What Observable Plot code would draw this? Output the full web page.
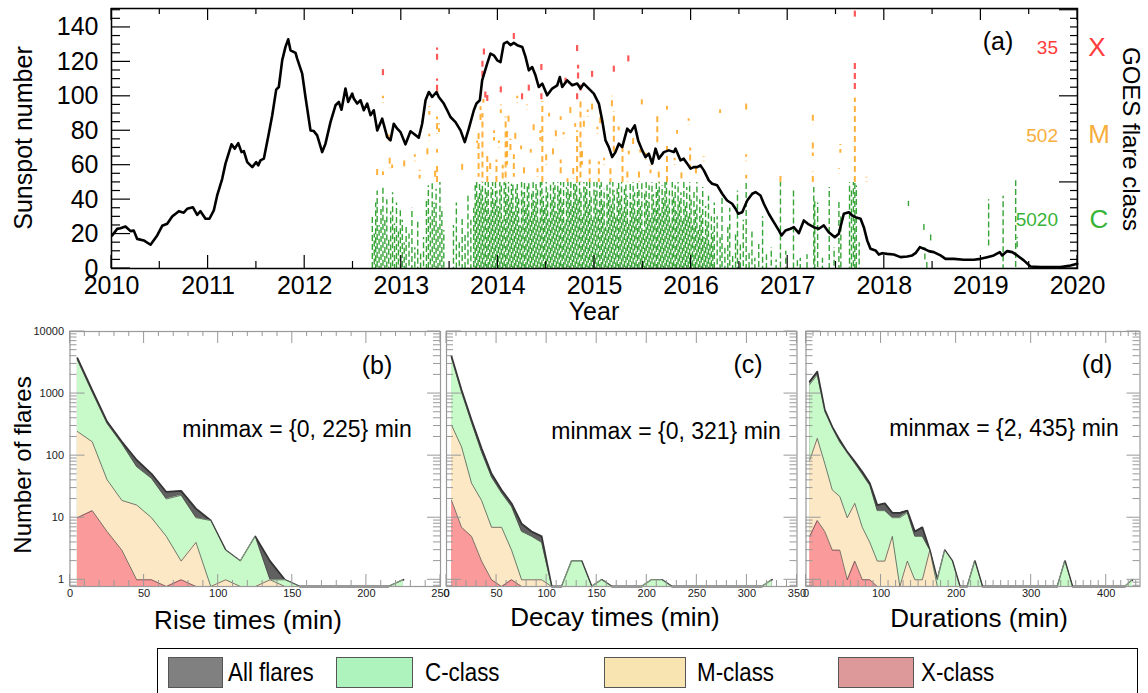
<!DOCTYPE html>
<html><head><meta charset="utf-8">
<script src="https://cdn.jsdelivr.net/npm/d3@7"></script>
<script src="https://cdn.jsdelivr.net/npm/@observablehq/plot@0.6"></script>
<style>
html,body{margin:0;padding:0;background:#fff;}
#root{position:relative;width:1148px;height:693px;overflow:hidden;background:#fff;font-family:"Liberation Sans",Arial,Helvetica,sans-serif;}
#root svg{position:absolute;left:0;max-width:none;}
.lbl{position:absolute;white-space:nowrap;line-height:1;}
</style></head><body><div id="root"></div>
<script>
// ---------------- DATA ----------------
const sunspotYear = [2010.007,2010.059,2010.093,2010.145,2010.197,2010.231,2010.266,2010.334,2010.404,2010.473,2010.525,2010.577,2010.628,2010.697,2010.748,2010.784,2010.842,2010.887,2010.921,2010.973,2011.014,2011.059,2011.094,2011.146,2011.180,2011.242,2011.276,2011.312,2011.346,2011.370,2011.405,2011.457,2011.498,2011.519,2011.542,2011.577,2011.628,2011.664,2011.705,2011.732,2011.767,2011.801,2011.829,2011.853,2011.905,2011.922,2011.974,2012.008,2012.060,2012.094,2012.129,2012.181,2012.215,2012.267,2012.319,2012.353,2012.381,2012.422,2012.450,2012.492,2012.508,2012.543,2012.578,2012.612,2012.647,2012.681,2012.715,2012.751,2012.802,2012.854,2012.888,2012.922,2012.958,2012.992,2013.043,2013.095,2013.129,2013.181,2013.216,2013.251,2013.285,2013.320,2013.364,2013.388,2013.440,2013.475,2013.509,2013.561,2013.613,2013.657,2013.699,2013.751,2013.778,2013.813,2013.837,2013.889,2013.923,2013.958,2013.993,2014.027,2014.061,2014.096,2014.130,2014.165,2014.200,2014.252,2014.286,2014.320,2014.355,2014.389,2014.423,2014.459,2014.510,2014.562,2014.614,2014.641,2014.666,2014.717,2014.769,2014.821,2014.855,2014.889,2014.941,2014.993,2015.045,2015.080,2015.114,2015.148,2015.183,2015.217,2015.252,2015.287,2015.339,2015.373,2015.417,2015.452,2015.494,2015.528,2015.562,2015.597,2015.632,2015.666,2015.718,2015.769,2015.821,2015.839,2015.890,2015.924,2015.960,2015.994,2016.028,2016.063,2016.097,2016.132,2016.183,2016.218,2016.270,2016.322,2016.373,2016.425,2016.460,2016.488,2016.529,2016.581,2016.633,2016.667,2016.718,2016.753,2016.804,2016.856,2016.908,2016.936,2016.977,2017.029,2017.063,2017.115,2017.167,2017.218,2017.270,2017.322,2017.374,2017.425,2017.488,2017.529,2017.581,2017.633,2017.667,2017.702,2017.754,2017.788,2017.823,2017.857,2017.909,2017.943,2017.978,2018.030,2018.098,2018.168,2018.237,2018.289,2018.323,2018.368,2018.409,2018.461,2018.512,2018.582,2018.634,2018.720,2018.823,2018.927,2018.996,2019.065,2019.133,2019.196,2019.220,2019.272,2019.324,2019.376,2019.444,2019.513,2019.617,2019.720,2019.824,2019.928,2019.997];
const sunspotValue = [19.2,23.0,23.4,24.4,21.7,22.0,17.2,16.3,13.8,19.2,24.8,26.0,30.2,33.3,32.4,34.7,35.6,31.2,33.3,28.9,28.9,33.7,42.4,52.1,60.9,72.1,69.6,72.8,67.6,68.2,61.8,58.9,61.8,59.9,62.8,63.8,78.3,89.0,103.9,105.4,120.9,128.7,133.1,126.7,125.2,121.9,113.2,99.6,80.2,79.8,77.3,67.6,72.5,85.0,94.8,96.7,92.2,104.5,96.7,101.6,98.7,95.8,97.7,91.9,95.8,89.0,91.9,80.2,87.0,76.3,74.4,84.1,81.2,79.2,72.1,79.7,78.3,76.0,84.1,97.7,102.5,99.6,102.5,99.6,95.8,91.9,88.0,85.0,80.2,73.4,81.2,91.9,95.8,97.7,109.3,119.0,124.8,123.8,120.9,119.9,130.6,131.6,129.7,131.0,129.7,128.7,122.9,115.1,117.0,112.2,105.4,107.4,100.6,104.5,106.4,111.2,105.4,109.3,106.4,107.4,104.5,107.4,104.5,101.6,95.8,86.0,74.4,70.5,64.7,67.6,72.5,70.5,81.2,79.2,83.1,74.4,68.6,64.7,66.7,60.9,69.6,63.8,67.6,68.6,67.6,69.6,62.8,63.8,60.9,58.0,58.9,58.9,59.9,57.0,51.2,49.2,48.3,43.4,39.5,37.6,34.7,31.8,32.7,39.5,43.4,44.4,42.4,37.6,31.8,26.9,22.1,19.2,22.1,23.1,24.0,20.5,27.9,25.6,24.0,23.1,25.0,21.1,18.2,20.2,31.8,32.7,30.8,29.8,28.9,24.0,16.3,11.5,10.5,8.1,8.9,8.5,8.1,6.6,7.0,7.6,8.9,12.4,11.5,10.1,9.5,7.6,5.6,5.6,5.1,5.1,5.6,6.6,7.6,9.5,7.6,10.1,9.5,7.6,4.7,1.2,0.8,0.8,0.8,1.7,2.7];

// C-class flare columns [time (yr), top level on the 0-150 flare-class axis]
const cColumns = [[2012.700,30],[2012.720,20],[2012.735,38],[2012.750,45],[2012.770,25],[2012.790,36],[2012.810,48],[2012.830,28],[2012.850,40],[2012.870,18],[2012.890,33],[2012.910,44],[2012.930,26],[2012.950,38],[2012.970,22],[2012.990,35],[2013.010,28],[2013.030,15],[2013.050,24],[2013.080,20],[2013.110,35],[2013.140,12],[2013.170,28],[2013.200,10],[2013.230,18],[2013.260,40],[2013.280,48],[2013.300,30],[2013.320,50],[2013.340,38],[2013.360,46],[2013.380,25],[2013.400,50],[2013.420,35],[2013.440,22],[2013.540,25],[2013.570,38],[2013.600,15],[2013.630,30],[2013.660,20],[2013.690,42],[2013.720,28],
[2013.750,35],[2013.765,48],[2013.780,50],[2013.795,42],[2013.810,50],[2013.825,46],[2013.840,50],[2013.855,38],[2013.870,50],[2013.885,44],[2013.900,50],[2013.915,31],[2013.930,47],[2013.945,50],[2013.960,40],[2013.975,50],[2013.990,45],[2014.005,36],[2014.020,50],[2014.035,48],[2014.050,28],[2014.065,50],[2014.080,50],[2014.095,43],[2014.110,50],[2014.125,38],[2014.140,49],[2014.155,50],[2014.170,33],[2014.185,46],[2014.200,50],[2014.215,41],[2014.230,25],[2014.245,50],[2014.260,44],[2014.275,50],[2014.290,36],[2014.305,48],[2014.320,50],[2014.335,30],[2014.350,45],[2014.365,50],[2014.380,39],[2014.395,50],[2014.410,47],[2014.425,27],[2014.440,50],[2014.455,50],[2014.470,42],[2014.485,35],[2014.500,50],[2014.515,46],[2014.530,29],[2014.545,50],[2014.560,41],[2014.575,50],[2014.590,48],[2014.605,33],[2014.620,50],[2014.635,45],[2014.650,50],[2014.665,38],[2014.680,50],[2014.695,26],[2014.710,47],[2014.725,50],[2014.740,43],[2014.755,50],[2014.770,36],[2014.785,50],[2014.800,49],[2014.815,50],[2014.830,40],[2014.845,50],[2014.860,44],[2014.875,31],[2014.890,50],[2014.905,47],[2014.920,50],[2014.935,37],[2014.950,50],[2014.965,42],[2014.980,28],[2014.995,50],[2015.010,45],[2015.025,50],[2015.040,34],[2015.055,48],[2015.070,50],[2015.085,39],[2015.100,46],[2015.115,24],[2015.130,50],[2015.145,43],[2015.160,50],[2015.175,37],[2015.190,50],[2015.205,45],[2015.220,30],[2015.235,48],[2015.250,50],[2015.265,40],[2015.280,50],[2015.295,33],[2015.310,46],[2015.325,50],[2015.340,42],[2015.355,27],[2015.370,49],[2015.385,38],[2015.400,50],[2015.415,44],[2015.430,31],[2015.445,50],[2015.460,47],[2015.475,36],[2015.490,50],[2015.505,22],[2015.520,45],[2015.535,50],[2015.550,39],[2015.565,48],[2015.580,29],[2015.595,50],[2015.610,43],[2015.625,35],[2015.640,50],[2015.655,46],[2015.670,50],[2015.685,32],[2015.700,48],[2015.715,41],[2015.730,50],[2015.745,50],[2015.760,37],[2015.775,45],[2015.790,26],[2015.805,50],[2015.820,42],[2015.835,48],[2015.850,33],[2015.865,50],[2015.880,39],[2015.895,44],[2015.910,28],[2015.925,50],[2015.940,36],[2015.955,47],[2015.970,30],[2015.985,50],[2016.000,41],[2016.015,25],[2016.030,45],[2016.045,34],[2016.060,50],[2016.075,22],[2016.090,40],[2016.105,31],[2016.120,47],[2016.135,18],[2016.150,36],[2016.165,27],[2016.180,42],[2016.195,15],[2016.210,30],[2016.225,21],[2016.240,38],
[2016.270,30],[2016.300,18],[2016.320,42],[2016.350,12],[2016.380,25],[2016.400,35],[2016.430,8],[2016.460,20],[2016.480,45],[2016.510,15],[2016.540,28],[2016.570,50],[2016.600,10],[2016.630,22],[2016.660,6],[2016.700,14],[2016.740,30],[2016.780,8],[2016.830,12],[2016.880,5],[2016.925,50],[2016.980,10],[2017.060,45],[2017.100,5],[2017.130,6],[2017.200,8],[2017.270,47],[2017.280,40],[2017.310,38],[2017.360,6],[2017.430,47],[2017.480,12],[2017.530,40],[2017.550,30],[2017.640,50],[2017.660,45],[2017.680,50],[2017.695,50],[2017.710,48],[2017.740,15],[2019.230,42],[2019.360,51]];
// isolated C-class dashes [time, low, high]
const cDashes = [[2018.25,36,39],[2018.41,22,26],[2018.42,5,12],[2018.48,16,20],[2018.44,0,4],[2019.08,13,40],[2019.375,12,18]];
// M-class flare marks [time, low, high]
const mFlares = [[2012.75,54,58],[2012.81,96,100],[2012.81,54,58],[2012.87,74,78],[2012.88,58,66],[2012.905,58,62],[2013.03,59,63],[2013.14,62,66],[2013.19,52,57],[2013.27,66,70],[2013.29,74,78],[2013.29,89,94],[2013.35,53,58],[2013.37,78,88],[2013.37,67,71],[2013.37,50,60],[2013.38,100,103],[2013.39,79,84],[2013.63,57,61],[2013.785,70,74],[2013.80,53,79],[2013.82,86,94],[2013.84,50,90],[2013.85,96,100],[2013.89,50,66],[2013.92,55,62],[2013.96,74,80],[2013.985,50,63],[2014.01,70,74],[2014.03,90,95],[2014.05,52,60],[2014.08,50,88],[2014.095,60,80],[2014.11,85,89],[2014.13,66,75],[2014.165,53,66],[2014.18,75,79],[2014.20,96,100],[2014.24,69,73],[2014.27,55,60],[2014.30,92,95],[2014.34,67,71],[2014.37,80,84],[2014.41,53,58],[2014.44,74,80],[2014.46,50,97],[2014.50,60,66],[2014.53,88,92],[2014.57,66,70],[2014.60,74,80],[2014.65,86,90],[2014.65,55,63],[2014.68,75,79],[2014.72,50,54],[2014.75,90,94],[2014.78,52,60],[2014.80,82,86],[2014.82,50,80],[2014.855,50,98],[2014.87,60,68],[2014.89,82,88],[2014.93,88,92],[2014.95,50,63],[2014.975,92,96],[2015.03,78,82],[2015.045,50,62],[2015.06,84,91],[2015.10,60,64],[2015.165,50,58],[2015.18,94,100],[2015.20,65,91],[2015.25,80,84],[2015.29,50,70],[2015.34,50,56],[2015.355,66,70],[2015.40,72,76],[2015.46,50,56],[2015.475,67,71],[2015.49,95,98],[2015.53,63,67],[2015.58,55,60],[2015.65,73,90],[2015.665,50,58],[2015.75,92,95],[2015.75,50,72],[2015.83,60,64],[2015.855,78,82],[2015.90,52,56],[2015.975,83,87],[2015.99,58,70],[2016.05,55,58],[2016.13,62,65],[2016.30,90,93],[2016.57,92,96],[2016.57,62,66],[2016.57,52,56],[2016.925,50,55],[2017.26,83,90],[2017.26,65,73],[2017.26,50,56],[2017.53,55,58],[2017.545,67,72],[2017.695,50,99],[2017.815,50,53]];
// X-class flare marks [time, low, high]
const xFlares = [[2012.81,112,116],[2013.37,121,128],[2013.37,103,110],[2013.84,111,121],[2013.855,124,128],[2013.87,99,103],[2013.89,97,101],[2014.03,102,106],[2014.165,133,137],[2014.25,98,102],[2014.32,103,108],[2014.45,115,119],[2014.45,98,102],[2014.70,107,111],[2014.82,126,130],[2014.83,110,118],[2014.82,98,102],[2014.855,103,107],[2014.975,111,115],[2015.20,114,119],[2015.35,120,125],[2017.695,104,120],[2017.695,146,151]];
const flareCounts = {X: 35, M: 502, C: 5020};
const yearTicks = [2010,2011,2012,2013,2014,2015,2016,2017,2018,2019,2020];
const sunspotTicks = [0,20,40,60,80,100,120,140];

// histograms (bin centres in minutes, counts)
const riseBins = [5,15,25,35,45,55,65,75,85,95,105,115,125,135,145,155,165,175,185,195,205,215,225];
const riseAll  = [3720,1140,354,167,85,51,26,27,14,9,3,2,5,2,1,0,0,0,0,0,0,0,1];
const riseC    = [3470,1050,330,155,66,43,20,23,10,9,3,2,5,1,1,0,0,0,0,0,0,0,1];
const riseM    = [245,167,41,19,16,10,5,2,4,0,1,0,0,1,0,0,0,0,0,0,0,0,0];
const riseX    = [10,13,6,3,1,1,0,1,0,0,0,0,0,0,0,0,0,0,0,0,0,0,0];

const decayBins = [5,15,25,35,45,55,65,75,85,95,105,115,125,135,145,155,165,175,185,195,205,215,225,235,245,255,265,275,285,295,305,315,325];
const decayAll  = [3970,1140,375,131,51,28,17,8,6,5,0,0,2,2,0,1,0,0,0,0,1,1,0,0,0,0,0,0,0,0,0,0,1];
const decayC    = [3700,1050,340,115,45,25,15,6,5,4,0,0,2,2,0,1,0,0,0,0,1,1,0,0,0,0,0,0,0,0,0,0,1];
const decayM    = [310,139,36,19,7,7,3,1,1,1,0,0,0,0,0,0,0,0,0,0,0,0,0,0,0,0,0,0,0,0,0,0,0];
const decayX    = [19,7,5,2,1,0,1,0,0,0,0,0,0,0,0,0,0,0,0,0,0,0,0,0,0,0,0,0,0,0,0,0,0];

const durBins = [5,15,25,35,45,55,65,75,85,95,105,115,125,135,145,155,165,175,185,195,205,215,225,235,245,255,265,275,285,295,305,315,325,335,345,355,365,375,385,395,405,415,425,435];
const durAll  = [1560,2250,545,290,178,115,80,55,36,16,17,12,12,13,6,7,3,1,3,2,0,0,2,0,0,0,0,0,0,0,0,0,0,0,2,0,0,0,0,0,0,0,0,1];
const durC    = [1400,2000,520,280,165,110,75,50,33,13,13,10,10,12,5,5,3,1,3,2,0,0,2,0,0,0,0,0,0,0,0,0,0,0,2,0,0,0,0,0,0,0,0,1];
const durM    = [85,190,75,28,22,10,17,7,4,2,2,5,0,2,1,1,3,0,0,0,0,0,0,0,0,0,0,0,0,0,0,0,0,0,0,0,0,0,0,0,0,0,0,0];
const durX    = [5,9,6,3,3,1,2,1,1,0,0,0,0,0,0,0,0,0,0,0,0,0,0,0,0,0,0,0,0,0,0,0,0,0,0,0,0,0,0,0,0,0,0,0];

const legendItems = ["All flares","C-class","M-class","X-class"];

// ---------------- RENDER ----------------
const FONT = '"Liberation Sans", Arial, Helvetica, sans-serif';
const root = document.getElementById("root");

function place(svg, top) { svg.style.top = top + "px"; root.appendChild(svg); }
function label(text, x, y, o = {}) {
  const d = document.createElement("div");
  d.className = "lbl";
  d.textContent = text;
  d.style.left = x + "px"; d.style.top = y + "px";
  d.style.fontSize = (o.size || 20) + "px";
  d.style.color = o.color || "#000";
  d.style.fontFamily = o.family || FONT;
  const tx = o.anchor === "end" ? "-100%" : o.anchor === "start" ? "0" : "-50%";
  d.style.transform = `translate(${tx},-50%)` + (o.rotate ? ` rotate(${o.rotate}deg)` : "") + (o.sx ? ` scaleX(${o.sx})` : "");
  d.style.transformOrigin = o.anchor === "start" ? "left center" : o.anchor === "end" ? "right center" : "center center";
  root.appendChild(d);
  return d;
}
// inward ticks drawn through the plot's own scales
function ticks(svg, plot, cfg) {
  const sx = plot.scale("x"), sy = plot.scale("y");
  const [xa, xb] = sx.range, [yb, ya] = sy.range;
  const g = d3.select(svg).append("g").attr("stroke", cfg.stroke).attr("stroke-width", cfg.width || 1).attr("fill", "none");
  const L = (x1, y1, x2, y2) => g.append("line").attr("x1", x1).attr("y1", y1).attr("x2", x2).attr("y2", y2);
  for (const t of cfg.x) { const p = sx.apply(t.v); if (t.b) L(p, yb, p, yb - t.b); if (t.t) L(p, ya, p, ya + t.t); }
  for (const t of cfg.y) { const p = sy.apply(t.v); if (t.l) L(xa, p, xa + t.l, p); if (t.r) L(xb, p, xb - t.r, p); }
}

// ---- panel (a) ----
const sunspots = sunspotYear.map((t, i) => ({t, v: sunspotValue[i]}));
const cCols = cColumns.map(([t, top]) => ({t, lo: 0, hi: top}));
const cD = cDashes.map(([t, lo, hi]) => ({t, lo, hi}));
const mD = mFlares.map(([t, lo, hi]) => ({t, lo, hi}));
const xD = xFlares.map(([t, lo, hi]) => ({t, lo, hi}));
// dash phases vary between neighbouring columns so the dashes do not line up
const PHASES = [0, 5.6, 2.3, 7.9, 3.8, 1.1, 6.7, 3.1, 8.6, 4.7, 0.6, 7.2, 2.0];
const dashed = (data, k, n, stroke, op, w, dash) => Plot.ruleX(data.filter((d, i) => i % n === k), {x: "t", y1: "lo", y2: "hi", stroke, strokeOpacity: op, strokeWidth: w, strokeDasharray: dash, strokeDashoffset: PHASES[k]});

const plotA = Plot.plot({
  width: 1148, height: 330,
  marginLeft: 111, marginRight: 71, marginTop: 8, marginBottom: 62,
  style: {background: "transparent", fontFamily: FONT, fontSize: "25px", color: "#000", overflow: "visible"},
  x: {domain: [2010, 2020]},
  y: {domain: [0, 151]},
  marks: [
    ...PHASES.map((p, k) => dashed(cCols, k, PHASES.length, "#149414", 0.85, 1.4, "6,3")),
    dashed(cD, 0, 1, "#149414", 0.85, 1.4, "6,3"),
    ...[0, 1, 2].map(k => dashed(mD, k, 3, "#ffa31a", 0.85, 2, "6,4")),
    dashed(xD, 0, 1, "#ff3b3b", 0.85, 2.2, "6,4"),
    Plot.line(sunspots, {x: "t", y: "v", stroke: "#000", strokeWidth: 2.6}),
    Plot.frame({stroke: "#000", strokeWidth: 1.5}),
    Plot.axisX({ticks: yearTicks, tickFormat: d => String(d), tickSize: 0, tickPadding: 8, label: null}),
    Plot.axisY({ticks: sunspotTicks, tickSize: 0, tickPadding: 13, label: null})
  ]
});
place(plotA, 0);
{
  const xt = [];
  for (let y = 2010; y <= 2020; y += 0.5) xt.push(Number.isInteger(y) ? {v: y, b: 13, t: 12} : {v: y, b: 7, t: 6});
  const yt = [];
  for (let v = 0; v <= 150; v += 5) yt.push({v, l: v % 20 === 0 ? 19 : 9, r: v % 50 === 0 ? 18 : 7});
  ticks(plotA, plotA, {stroke: "#000", width: 1.2, x: xt, y: yt});
}
label("Sunspot number", 23, 138, {size: 25, rotate: -90});
label("Year", 594, 311, {size: 25});
label("GOES flare class", 1131, 139, {size: 24, rotate: 90});
label("(a)", 998, 41, {size: 25});
label(String(flareCounts.X), 1058, 47, {size: 19, color: "#ff3b3b", anchor: "end"});
label(String(flareCounts.M), 1058, 135, {size: 19, color: "#f7ae3c", anchor: "end"});
label(String(flareCounts.C), 1058, 219, {size: 19, color: "#38b438", anchor: "end"});
label("X", 1097, 47, {size: 26, color: "#ff3b3b"});
label("M", 1099, 134, {size: 26, color: "#f7ae3c"});
label("C", 1099, 219, {size: 26, color: "#38b438"});

// ---- panels (b), (c), (d) ----
const Y_MIN = 0.78, Y_MAX = 10000;
const FILL = {all: "#606060", c: "#c8f9c8", m: "#fde8c6", x: "#fb9a9a"};
function histPanel({left, right, xMax, bins, all, c, m, x, xTicks, majorStep, showY}) {
  const rows = bins.map((t, i) => ({t, all: all[i], c: c[i], m: m[i], x: x[i]}));
  const f = k => d => Math.max(d[k], Y_MIN);
  const layer = (k, fill, sw, st) => [
    Plot.areaY(rows, {x: "t", y1: Y_MIN, y2: f(k), fill}),
    Plot.lineY(rows, {x: "t", y: f(k), stroke: st, strokeWidth: sw})
  ];
  const p = Plot.plot({
    width: 1148, height: 330,
    marginLeft: left, marginRight: 1148 - right, marginTop: 21, marginBottom: 54,
    style: {background: "transparent", fontFamily: FONT, fontSize: "11px", color: "#222", overflow: "visible"},
    x: {domain: [0, xMax], axis: null},
    y: {type: "log", domain: [Y_MIN, Y_MAX], axis: null},
    marks: [
      ...layer("all", FILL.all, 1.8, "#333"),
      ...layer("c", FILL.c, 0.7, "#444"),
      ...layer("m", FILL.m, 0.7, "#444"),
      ...layer("x", FILL.x, 0.7, "#444"),
      Plot.frame({stroke: "#999", strokeWidth: 1.2}),
      Plot.axisX({ticks: xTicks, tickFormat: d => String(d), tickSize: 0, tickPadding: 3, label: null}),
      ...(showY ? [Plot.axisY({ticks: [1, 10, 100, 1000, 10000], tickFormat: d => String(d), tickSize: 0, tickPadding: 6, label: null})] : [])
    ]
  });
  place(p, 310);
  const xt = [];
  for (let v = 0; v <= xMax; v += 10) xt.push(v % majorStep === 0 ? {v, b: 12, t: 12} : {v, b: 6, t: 5});
  const yt = [];
  for (let e = -1; e <= 4; e++) for (let k = 1; k <= 9; k++) {
    const v = k * Math.pow(10, e);
    if (v < Y_MIN || v > Y_MAX) continue;
    yt.push(k === 1 ? {v, l: 15, r: 13} : {v, l: 7, r: 7});
  }
  ticks(p, p, {stroke: "#999", width: 1, x: xt, y: yt});
  return p;
}
histPanel({left: 69.5, right: 440, xMax: 250, bins: riseBins, all: riseAll, c: riseC, m: riseM, x: riseX, xTicks: [0,50,100,150,200,250], majorStep: 50, showY: true});
histPanel({left: 446, right: 796.5, xMax: 350, bins: decayBins, all: decayAll, c: decayC, m: decayM, x: decayX, xTicks: [0,50,100,150,200,250,300,350], majorStep: 50, showY: false});
histPanel({left: 805.5, right: 1139.5, xMax: 445, bins: durBins, all: durAll, c: durC, m: durM, x: durX, xTicks: [0,100,200,300,400], majorStep: 100, showY: false});

label("(b)", 377, 365, {size: 25});
label("(c)", 748, 364, {size: 25});
label("(d)", 1097, 364, {size: 25});
label("minmax = {0, 225} min", 297, 429, {size: 23});
label("minmax = {0, 321} min", 666, 431, {size: 23});
label("minmax = {2, 435} min", 1004, 428, {size: 23});
label("Rise times (min)", 248, 620, {size: 26});
label("Decay times (min)", 615, 617, {size: 26});
label("Durations (min)", 979, 618, {size: 26});
label("Number of flares", 23, 465, {size: 24, rotate: -90});

// ---- legend ----
{
  const box = document.createElement("div");
  Object.assign(box.style, {position: "absolute", left: "157px", top: "648px", width: "981px", height: "50px", border: "1.5px solid #000", boxSizing: "border-box"});
  root.appendChild(box);
  const sw = ["#808080", "#aef3bd", "#f7e4b0", "#dd9999"];
  const swLeft = [168, 336, 604, 838];
  const swWidth = [55, 77, 82, 76];
  const txLeft = [228, 425, 697, 921];
  legendItems.forEach((name, i) => {
    const s = document.createElement("div");
    Object.assign(s.style, {position: "absolute", left: swLeft[i] + "px", top: "657px", width: swWidth[i] + "px", height: "31px", background: sw[i], border: "1px solid #555", boxSizing: "border-box"});
    root.appendChild(s);
    label(name, txLeft[i], 672, {size: 26, anchor: "start", sx: 0.86});
  });
}
</script></body></html>
